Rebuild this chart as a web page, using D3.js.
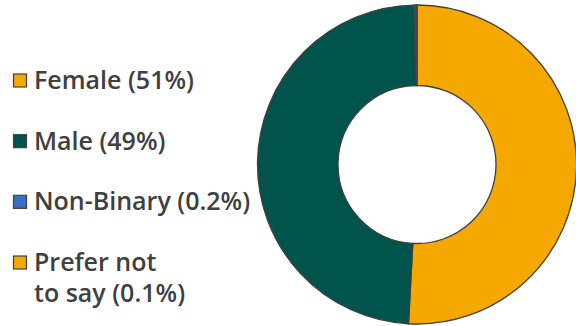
<!DOCTYPE html>
<html>
<head>
<meta charset="utf-8">
<script src="https://cdn.jsdelivr.net/npm/d3@7"></script>
<style>
  html, body { margin: 0; padding: 0; background: #fff; }
  svg { display: block; }
</style>
</head>
<body>
<svg id="chart" width="576" height="326"></svg>
<script>
// Gender breakdown
const categories = ["Female", "Male", "Non-Binary", "Prefer not to say"];
const shares = [51, 49, 0.2, 0.1];
const legendLines = [
  ["Female (51%)"],
  ["Male (49%)"],
  ["Non-Binary (0.2%)"],
  ["Prefer not", "to say (0.1%)"]
];
const colors = ["#F5A800", "#00544C", "#3A70C4", "#F5A800"];

const svg = d3.select("#chart");

const color = d3.scaleOrdinal().domain(categories).range(colors);

// Donut
const cx = 417, cy = 164.5, outerR = 159.5, innerR = 79;
const pie = d3.pie().sort(null).value(d => d.value);
const arcs = pie(categories.map((c, i) => ({ name: c, value: shares[i] })));
const arc = d3.arc().innerRadius(innerR).outerRadius(outerR);

svg.append("g")
  .attr("transform", `translate(${cx},${cy})`)
  .selectAll("path")
  .data(arcs)
  .join("path")
  .attr("d", arc)
  .attr("fill", d => color(d.data.name))
  .attr("stroke", "#404040")
  .attr("stroke-width", 1.3);

// Legend
const rowY = d3.scalePoint().domain(categories).range([89, 271]);
const legend = svg.append("g");
const items = legend.selectAll("g")
  .data(categories)
  .join("g")
  .attr("transform", d => `translate(0,${rowY(d)})`);

items.append("rect")
  .attr("x", 13.5).attr("y", -15)
  .attr("width", 13).attr("height", 13)
  .attr("fill", d => color(d))
  .attr("stroke", "#404040")
  .attr("stroke-width", 1.2);

items.append("text")
  .attr("x", 34)
  .attr("font-family", "'Open Sans', sans-serif")
  .attr("font-weight", 600)
  .attr("font-size", 25)
  .attr("fill", "#404040")
  .selectAll("tspan")
  .data((d, i) => legendLines[i])
  .join("tspan")
  .attr("x", 34)
  .attr("dy", (t, j) => j === 0 ? 0 : 31)
  .text(t => t);
</script>
</body>
</html>
